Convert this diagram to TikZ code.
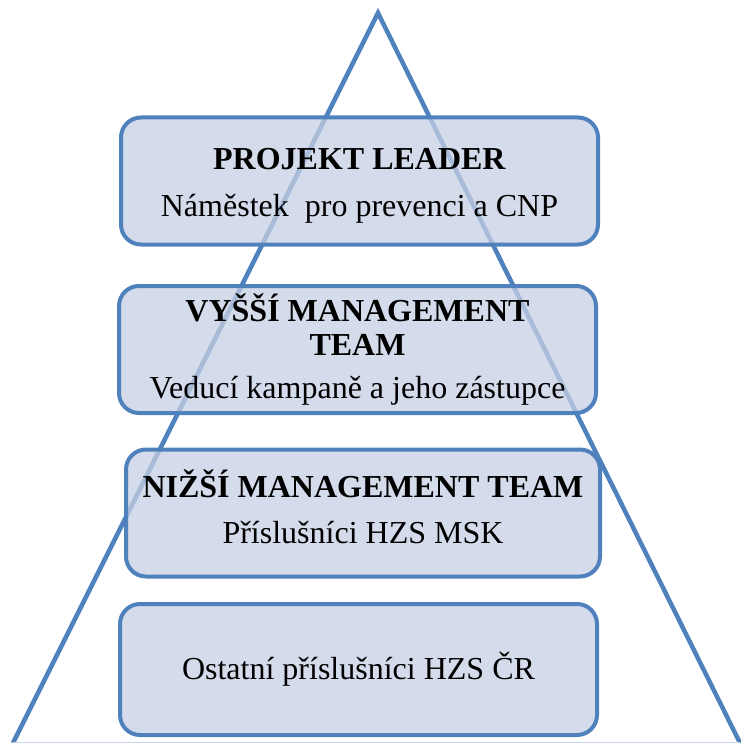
\documentclass[tikz,border=0pt]{standalone}
\usepackage{fontspec}
\setmainfont{Liberation Serif}
\definecolor{tierline}{HTML}{4F81BD}
\definecolor{tierfill}{HTML}{C6CFE3}
\definecolor{baseedge}{HTML}{C9D6EA}

\begin{document}
\begin{tikzpicture}[x=1pt,y=-1pt,
      tier/.style={draw=tierline, line width=4pt, rounded corners=20pt,
        fill=tierfill, fill opacity=0.75, text opacity=1,
        minimum width=477pt, minimum height=127pt, align=center,
        font=\fontsize{32}{34}\selectfont},
      side/.style={draw=tierline, line width=4.5pt}]
  %.
  \useasboundingbox (0,0) rectangle (740,743);
  \coordinate (top) at (378,13);
  \coordinate (bl) at (13,743);
  \coordinate (br) at (740,743);
  \draw[side] (bl) -- (top) -- (br);
  \draw[baseedge, line width=1.5pt] (bl) -- (br);
  %.
  \node[tier] (leader) at (359.5,181) {\rule{0pt}{31pt}\textbf{PROJEKT LEADER}\\[13pt]Náměstek\ \ pro prevenci a CNP};
  \node[tier] (upper) at (357.5,349.5) {\textbf{VYŠŠÍ MANAGEMENT}\\\textbf{TEAM}\\[9pt]Veducí kampaně a jeho zástupce};
  \node[tier, minimum width=474pt] (lower) at (363,513) {\textbf{NIŽŠÍ MANAGEMENT TEAM}\\[12pt]Příslušníci HZS MSK\rule[-12pt]{0pt}{1pt}};
  \node[tier, minimum height=131pt] (others) at (358.5,669.5) {Ostatní příslušníci HZS ČR};
  %.
\end{tikzpicture}
\end{document}
